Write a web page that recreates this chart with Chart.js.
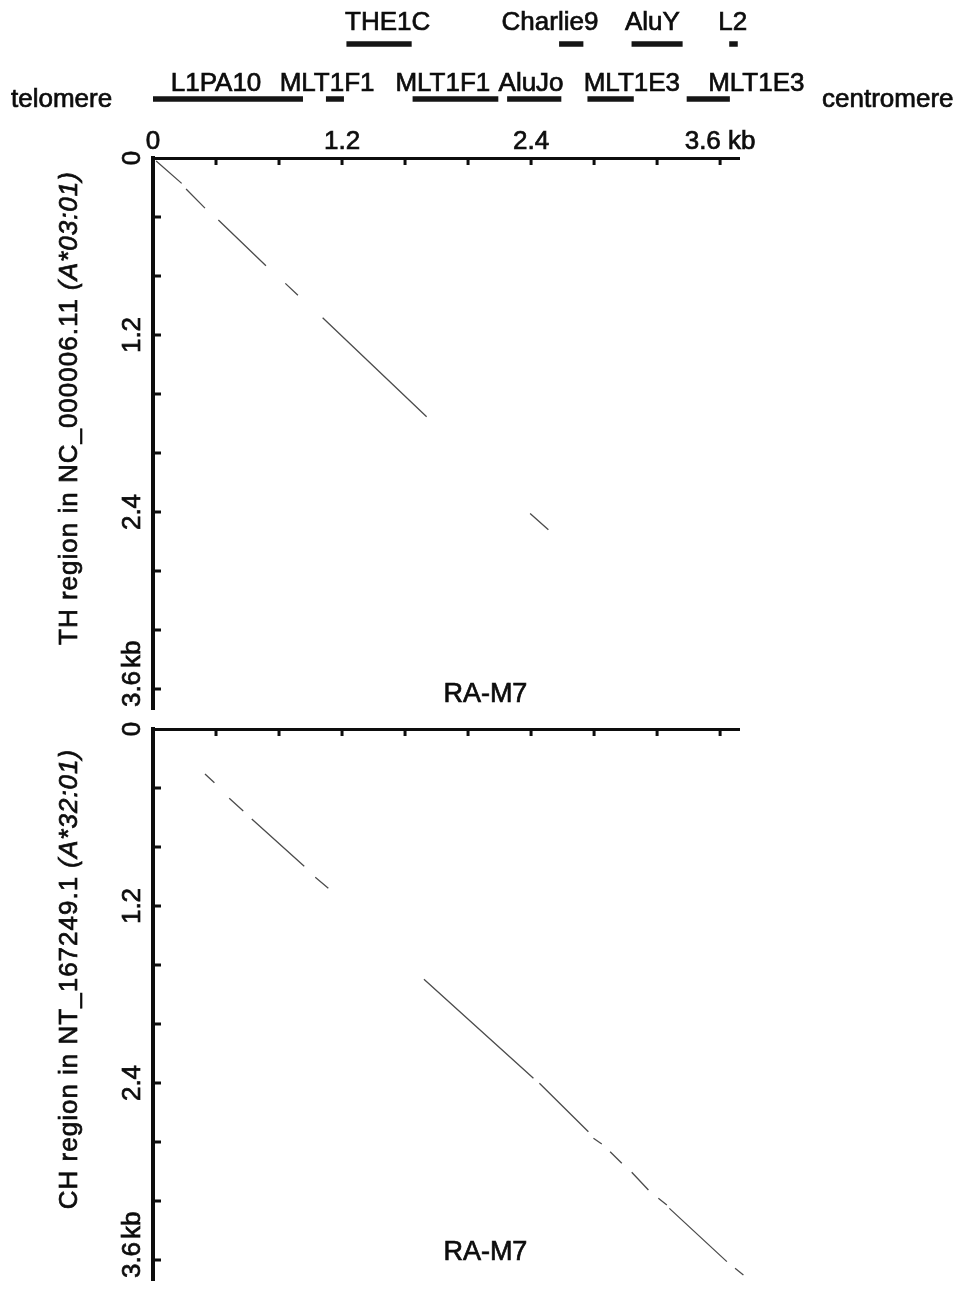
<!DOCTYPE html>
<html><head><meta charset="utf-8">
<script src="https://cdn.jsdelivr.net/npm/chart.js@4.4.1/dist/chart.umd.min.js"></script>
<style>
html,body{margin:0;padding:0;background:#fff;}
#wrap{position:relative;width:959px;height:1290px;overflow:hidden;background:#fff;}
canvas{position:absolute;left:0;}
</style></head><body>
<div id="wrap">
<canvas id="cA" width="959" height="130" style="top:0px"></canvas>
<canvas id="cB" width="959" height="620" style="top:100px"></canvas>
<canvas id="cC" width="959" height="570" style="top:720px"></canvas>
</div>
<script>
// ---------- data ----------
const rowNames = ['upper', 'lower'];
const repeatNamesUpper = ['THE1C', 'Charlie9', 'AluY', 'L2'];
const repeatStartUpper = [1.23, 2.58, 3.04, 3.66];
const repeatEndUpper   = [1.64, 2.73, 3.36, 3.71];
const repeatLabelAtUpper = [1.49, 2.52, 3.17, 3.68];

const repeatNamesLower = ['L1PA10', 'MLT1F1', 'MLT1F1', 'AluJo', 'MLT1E3', 'MLT1E3'];
const repeatStartLower = [0.00, 1.10, 1.65, 2.25, 2.76, 3.39];
const repeatEndLower   = [0.95, 1.21, 2.19, 2.59, 3.05, 3.66];
const repeatLabelAtLower = [0.40, 1.105, 1.84, 2.40, 3.04, 3.83];

const tickLabelValues = [0, 1.2, 2.4, 3.6];
const tickLabels = ['0', '1.2', '2.4', '3.6'];
const unitLabel = 'kb';

// TH region (NC_000006.11) vs RA-M7 : segment start/end (kb)
const thX1 = [0.02, 0.21, 0.415, 0.84, 1.077, 2.394];
const thY1 = [0.02, 0.21, 0.42, 0.85, 1.083, 2.41];
const thX2 = [0.182, 0.33, 0.717, 0.92, 1.737, 2.51];
const thY2 = [0.172, 0.34, 0.73, 0.93, 1.754, 2.52];

// CH region (NT_167249.1) vs RA-M7
const chX1 = [0.33, 0.484, 0.627, 1.03, 1.72, 2.453, 2.796, 2.902, 3.039, 3.208, 3.278, 3.695];
const chY1 = [0.305, 0.47, 0.61, 1.005, 1.697, 2.402, 2.775, 2.866, 3.005, 3.182, 3.25, 3.656];
const chX2 = [0.39, 0.573, 0.96, 1.113, 2.415, 2.764, 2.849, 2.976, 3.145, 3.262, 3.643, 3.748];
const chY2 = [0.364, 0.556, 0.93, 1.08, 2.368, 2.73, 2.814, 2.944, 3.125, 3.227, 3.611, 3.702];

const refName = 'RA-M7';
const titleTH = ['TH region in NC_000006.11 ', '(A*03:01)'];
const titleCH = ['CH region in NT_167249.1 ', '(A*32:01)'];

// ---------- helpers ----------
const FONT = '"Liberation Sans", Arial, Helvetica, sans-serif';
const INK = '#0d0d0d';
const STROKE_W = 0.7;
Chart.defaults.font.family = FONT;
Chart.defaults.color = INK;

function segPoints(x1, y1, x2, y2) {
  const pts = [];
  for (let i = 0; i < x1.length; i++) {
    pts.push({x: x1[i], y: y1[i]}, {x: x2[i], y: y2[i]});
    if (i < x1.length - 1) pts.push({x: x2[i], y: null});
  }
  return pts;
}
function labelIndex(v) {
  for (let i = 0; i < tickLabelValues.length; i++) if (Math.abs(v - tickLabelValues[i]) < 1e-6) return i;
  return -1;
}
function xTickText(v) {
  const i = labelIndex(v);
  if (i < 0) return '';
  return i === tickLabels.length - 1 ? tickLabels[i] + ' ' + unitLabel : tickLabels[i];
}
function inkText(ctx, s, x, y) {
  ctx.fillText(s, x, y);
  ctx.strokeText(s, x, y);
}

// ---------- plugins ----------
const repeatLabelPlugin = {
  id: 'repeatLabels',
  afterDatasetsDraw(chart, args, o) {
    const ctx = chart.ctx, xs = chart.scales.x, ys = chart.scales.y;
    ctx.save();
    ctx.fillStyle = INK; ctx.strokeStyle = INK; ctx.lineWidth = STROKE_W;
    ctx.font = '26px ' + FONT;
    ctx.textAlign = 'center';
    ctx.textBaseline = 'alphabetic';
    const yu = ys.getPixelForValue(0) - o.upperGap;
    const yl = ys.getPixelForValue(1) - o.lowerGap;
    repeatNamesUpper.forEach((n, i) => inkText(ctx, n, xs.getPixelForValue(repeatLabelAtUpper[i]), yu));
    repeatNamesLower.forEach((n, i) => inkText(ctx, n, xs.getPixelForValue(repeatLabelAtLower[i]), yl));
    ctx.textAlign = 'left';
    inkText(ctx, 'telomere', o.telX, o.endY);
    inkText(ctx, 'centromere', o.cenX, o.endY);
    ctx.restore();
  }
};

const decorPlugin = {
  id: 'decor',
  afterDraw(chart, args, o) {
    const ctx = chart.ctx, xs = chart.scales.x, ys = chart.scales.y, ca = chart.chartArea;
    ctx.save();
    ctx.strokeStyle = INK;
    ctx.lineWidth = 3;
    xs.ticks.forEach(t => {
      if (t.value <= 1e-9) return;
      const px = xs.getPixelForValue(t.value);
      ctx.beginPath(); ctx.moveTo(px, ca.top); ctx.lineTo(px, ca.top + 7); ctx.stroke();
    });
    ys.ticks.forEach(t => {
      if (t.value <= 1e-9) return;
      const py = ys.getPixelForValue(t.value);
      ctx.beginPath(); ctx.moveTo(ca.left, py); ctx.lineTo(ca.left + 8, py); ctx.stroke();
    });
    // rotated y tick labels
    ctx.fillStyle = INK;
    ctx.lineWidth = STROKE_W;
    ctx.font = '26px ' + FONT;
    ctx.textBaseline = 'alphabetic';
    ctx.textAlign = 'left';
    tickLabelValues.forEach((v, i) => {
      const py = ys.getPixelForValue(v);
      const lab = tickLabels[i];
      const w = ctx.measureText(lab).width;
      ctx.save();
      ctx.translate(o.yLabelX, py);
      ctx.rotate(-Math.PI / 2);
      inkText(ctx, lab, -w / 2, 0);
      if (i === tickLabels.length - 1) inkText(ctx, unitLabel, w / 2 + 3, 0);
      ctx.restore();
    });
    // rotated title with italic part
    ctx.save();
    ctx.translate(o.titleX, ca.top + o.titleOffset);
    ctx.rotate(-Math.PI / 2);
    try { ctx.letterSpacing = '1px'; } catch (e) {}
    const fN = '26px ' + FONT, fI = 'italic 26px ' + FONT;
    ctx.font = fN; const w1 = ctx.measureText(o.title[0]).width;
    ctx.font = fI; const w2 = ctx.measureText(o.title[1]).width;
    const start = -(w1 + w2) / 2;
    ctx.font = fN; inkText(ctx, o.title[0], start, 0);
    ctx.font = fI; inkText(ctx, o.title[1], start + w1, 0);
    ctx.restore();
    // reference name
    ctx.font = '27px ' + FONT;
    ctx.textAlign = 'center';
    inkText(ctx, refName, xs.getPixelForValue(o.noteX), ys.getPixelForValue(o.noteY));
    ctx.restore();
  }
};

// ---------- chart A: repeat elements ----------
new Chart(document.getElementById('cA'), {
  type: 'bar',
  data: {
    labels: rowNames,
    datasets: [
      {data: repeatNamesUpper.map((n, i) => ({y: 'upper', x: [repeatStartUpper[i], repeatEndUpper[i]]})),
       backgroundColor: '#151515', barThickness: 5, grouped: false},
      {data: repeatNamesLower.map((n, i) => ({y: 'lower', x: [repeatStartLower[i], repeatEndLower[i]]})),
       backgroundColor: '#151515', barThickness: 5, grouped: false}
    ]
  },
  options: {
    indexAxis: 'y', responsive: false, animation: false, events: [], devicePixelRatio: 1,
    layout: {padding: {left: 153, right: 220, top: 16.5, bottom: 3.5}},
    scales: {
      x: {type: 'linear', display: false, min: 0, max: 3.72},
      y: {type: 'category', display: false, labels: rowNames}
    },
    plugins: {legend: {display: false}, tooltip: {enabled: false},
      repeatLabels: {upperGap: 14, lowerGap: 8, telX: 11, cenX: 822, endY: 107}}
  },
  plugins: [repeatLabelPlugin]
});

function plotConfig(pts, showXLabels, xAxisHeight, padBottom, title, noteY) {
  return {
    type: 'scatter',
    data: {datasets: [{data: pts, showLine: true, spanGaps: false, pointRadius: 0,
      borderColor: 'rgba(55,55,55,0.9)', borderWidth: 1.3, clip: false}]},
    options: {
      responsive: false, animation: false, events: [], devicePixelRatio: 1,
      layout: {padding: {left: 0, right: 220, top: 0, bottom: padBottom}},
      scales: {
        x: {type: 'linear', position: 'top', min: 0, max: 3.72,
            grid: {display: false}, border: {display: true, color: INK, width: 3},
            ticks: {display: showXLabels, stepSize: 0.4, includeBounds: false, autoSkip: false,
                    maxRotation: 0, minRotation: 0, padding: -7, color: INK, font: {size: 26},
                    textStrokeColor: INK, textStrokeWidth: STROKE_W,
                    callback: (v) => xTickText(v)},
            afterFit: (s) => { s.height = xAxisHeight; }},
        y: {type: 'linear', position: 'left', reverse: true, min: 0, max: 3.74,
            grid: {display: false}, border: {display: true, color: INK, width: 4},
            ticks: {display: false, stepSize: 0.4, includeBounds: false},
            afterFit: (s) => { s.width = 153; }}
      },
      plugins: {legend: {display: false}, tooltip: {enabled: false},
        decor: {yLabelX: 140, titleX: 77, titleOffset: 250, title: title, noteX: 2.11, noteY: noteY}}
    },
    plugins: [decorPlugin]
  };
}

new Chart(document.getElementById('cB'), plotConfig(segPoints(thX1, thY1, thX2, thY2), true, 58, 10.35, titleTH, 3.69));
new Chart(document.getElementById('cC'), plotConfig(segPoints(chX1, chY1, chX2, chY2), false, 9, 9.35, titleCH, 3.6));
</script>
</body></html>
